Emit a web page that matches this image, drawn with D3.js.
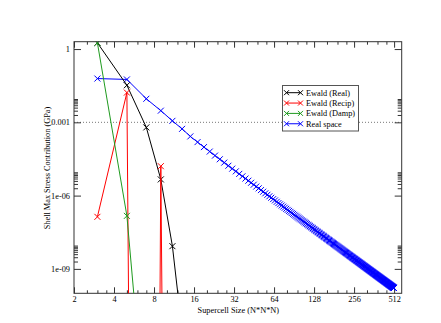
<!DOCTYPE html>
<html>
<head>
<meta charset="utf-8">
<script src="https://cdn.jsdelivr.net/npm/d3@7"></script>
<style>
  html, body { margin: 0; padding: 0; background: #fff; }
  svg { display: block; }
  text { font-family: "Liberation Serif", "DejaVu Serif", serif; }
</style>
</head>
<body>
<svg id="chart" width="441" height="323"></svg>
<script>
// Supercell sizes N (odd N) and the shell max stress contribution (GPa) of each term
const ewaldRealN = [3, 5, 7, 9, 11, 13];
const ewaldRealV = [1.8, 0.033, 6.2e-4, 4.6e-6, 8.5e-9, 3e-12];

const ewaldRecipN = [3, 5, 7, 9, 11];
const ewaldRecipV = [1.35e-7, 0.0165, 1e-100, 1.6e-5, 1e-60];

const ewaldDampN = [3, 5, 7];
const ewaldDampV = [1.8, 1.48e-7, 1.6e-16];

const realSpaceN = d3.range(3, 512, 2);
const realSpaceV = [
  0.062, 0.057, 9.2e-3, 3.0e-3, 1.15e-3, 5.4e-4, 2.65e-4, 1.55e-4, 9.67e-5, 6.35e-5,
  4.34e-5, 3.07e-5, 2.24e-5, 1.67e-5, 1.27e-5, 9.83e-6, 7.74e-6, 6.17e-6, 4.99e-6, 4.07e-6,
  3.35e-6, 2.79e-6, 2.34e-6, 1.98e-6, 1.68e-6, 1.44e-6, 1.24e-6, 1.08e-6, 9.36e-7, 8.19e-7,
  7.19e-7, 6.34e-7, 5.56e-7, 4.94e-7, 4.41e-7, 3.94e-7, 3.54e-7, 3.19e-7, 2.88e-7, 2.60e-7,
  2.36e-7, 2.15e-7, 1.95e-7, 1.785e-7, 1.633e-7, 1.497e-7, 1.375e-7, 1.265e-7, 1.166e-7, 1.076e-7,
  9.95e-8, 9.21e-8, 8.54e-8, 7.93e-8, 7.38e-8, 6.87e-8, 6.40e-8, 5.98e-8, 5.59e-8, 5.22e-8,
  4.89e-8, 4.59e-8, 4.31e-8, 4.04e-8, 3.80e-8, 3.58e-8, 3.37e-8, 3.18e-8, 3.00e-8, 2.83e-8,
  2.68e-8, 2.53e-8, 2.40e-8, 2.27e-8, 2.15e-8, 2.04e-8, 1.94e-8, 1.84e-8, 1.75e-8, 1.67e-8,
  1.59e-8, 1.51e-8, 1.44e-8, 1.37e-8, 1.31e-8, 1.25e-8, 1.19e-8, 1.14e-8, 1.09e-8, 1.04e-8,
  9.99e-9, 9.56e-9, 9.16e-9, 8.78e-9, 8.42e-9, 8.07e-9, 7.75e-9, 7.44e-9, 7.14e-9, 6.86e-9,
  6.60e-9, 6.34e-9, 6.10e-9, 5.87e-9, 5.65e-9, 5.44e-9, 5.24e-9, 5.05e-9, 4.87e-9, 4.69e-9,
  4.53e-9, 4.37e-9, 4.22e-9, 4.07e-9, 3.93e-9, 3.80e-9, 3.67e-9, 3.55e-9, 3.43e-9, 3.32e-9,
  3.21e-9, 3.11e-9, 3.01e-9, 2.91e-9, 2.82e-9, 2.73e-9, 2.65e-9, 2.57e-9, 2.49e-9, 2.41e-9,
  2.34e-9, 2.27e-9, 2.20e-9, 2.14e-9, 2.08e-9, 2.02e-9, 1.96e-9, 1.90e-9, 1.85e-9, 1.80e-9,
  1.75e-9, 1.70e-9, 1.65e-9, 1.61e-9, 1.56e-9, 1.52e-9, 1.48e-9, 1.44e-9, 1.40e-9, 1.36e-9,
  1.33e-9, 1.29e-9, 1.26e-9, 1.23e-9, 1.20e-9, 1.17e-9, 1.14e-9, 1.11e-9, 1.08e-9, 1.05e-9,
  1.03e-9, 1.00e-9, 9.80e-10, 9.56e-10, 9.33e-10, 9.11e-10, 8.89e-10, 8.68e-10, 8.48e-10, 8.28e-10,
  8.09e-10, 7.91e-10, 7.73e-10, 7.55e-10, 7.38e-10, 7.21e-10, 7.05e-10, 6.90e-10, 6.74e-10, 6.59e-10,
  6.45e-10, 6.31e-10, 6.17e-10, 6.04e-10, 5.91e-10, 5.79e-10, 5.66e-10, 5.54e-10, 5.43e-10, 5.32e-10,
  5.21e-10, 5.10e-10, 4.99e-10, 4.89e-10, 4.79e-10, 4.70e-10, 4.60e-10, 4.51e-10, 4.42e-10, 4.33e-10,
  4.25e-10, 4.16e-10, 4.08e-10, 4.00e-10, 3.93e-10, 3.85e-10, 3.78e-10, 3.70e-10, 3.63e-10, 3.57e-10,
  3.50e-10, 3.43e-10, 3.37e-10, 3.31e-10, 3.25e-10, 3.19e-10, 3.13e-10, 3.07e-10, 3.02e-10, 2.96e-10,
  2.91e-10, 2.86e-10, 2.81e-10, 2.76e-10, 2.71e-10, 2.66e-10, 2.61e-10, 2.57e-10, 2.52e-10, 2.48e-10,
  2.44e-10, 2.40e-10, 2.35e-10, 2.31e-10, 2.28e-10, 2.24e-10, 2.20e-10, 2.16e-10, 2.13e-10, 2.09e-10,
  2.06e-10, 2.02e-10, 1.99e-10, 1.96e-10, 1.93e-10, 1.90e-10, 1.87e-10, 1.84e-10, 1.81e-10, 1.78e-10,
  1.75e-10, 1.72e-10, 1.70e-10, 1.67e-10, 1.64e-10
];

// Axis ticks
const xMajorTicks = [2, 4, 8, 16, 32, 64, 128, 256, 512];
const xTickLabels = ["2", "4", "8", "16", "32", "64", "128", "256", "512"];
const yMajorTicks = [1, 1e-3, 1e-6, 1e-9];
const yTickLabels = ["1", "0.001", "1e-06", "1e-09"];
const refLineValue = 1e-3;

const seriesNames = ["Ewald (Real)", "Ewald (Recip)", "Ewald (Damp)", "Real space"];
const seriesColors = ["#000000", "#ff0000", "#1f9a1f", "#0000ff"];

const svg = d3.select("#chart");
const plotLeft = 74, plotRight = 401.7, plotTop = 41.7, plotBottom = 293.3;

const x = d3.scaleLog().base(2).domain([2, 584]).range([plotLeft, plotRight]);
const y = d3.scaleLog().base(10).domain([1e-10, 2]).range([plotBottom, plotTop]);

// minor ticks: quarter steps inside each octave, k x decade groups on y
const xMinor = [];
xMajorTicks.forEach(m => [1.25, 1.5, 1.75].forEach(f => { if (m * f <= 584) xMinor.push(m * f); }));
const yMinor = [];
[1e-9, 1e-6, 1e-3].forEach(m => d3.range(2, 10).forEach(k => yMinor.push(m * k)));

const fontSize = 8.3;
const axisColor = "#333";

svg.append("rect").attr("width", 441).attr("height", 323).attr("fill", "#fff");

svg.append("defs").append("clipPath").attr("id", "plotClip")
  .append("rect").attr("x", plotLeft).attr("y", plotTop)
  .attr("width", plotRight - plotLeft).attr("height", plotBottom - plotTop);

// dotted reference line at 0.001
svg.append("line")
  .attr("x1", plotLeft).attr("x2", plotRight)
  .attr("y1", y(refLineValue)).attr("y2", y(refLineValue))
  .attr("stroke", "#777").attr("stroke-width", 1)
  .attr("stroke-dasharray", "1,2");

function styleAxis(g) {
  g.select(".domain").remove();
  g.selectAll(".tick line").attr("stroke", axisColor);
  g.selectAll("text").attr("font-size", fontSize).attr("fill", "#000")
    .attr("font-family", "Liberation Serif, serif");
}

// bottom axis
svg.append("g").attr("transform", `translate(0,${plotBottom})`)
  .call(d3.axisBottom(x).tickValues(xMajorTicks).tickSize(-6).tickPadding(3)
    .tickFormat((d, i) => xTickLabels[i]))
  .call(styleAxis);
svg.append("g").attr("transform", `translate(0,${plotBottom})`)
  .call(d3.axisBottom(x).tickValues(xMinor).tickSize(-3).tickFormat(""))
  .call(styleAxis);
// top axis
svg.append("g").attr("transform", `translate(0,${plotTop})`)
  .call(d3.axisTop(x).tickValues(xMajorTicks).tickSize(-6).tickFormat(""))
  .call(styleAxis);
svg.append("g").attr("transform", `translate(0,${plotTop})`)
  .call(d3.axisTop(x).tickValues(xMinor).tickSize(-3).tickFormat(""))
  .call(styleAxis);
// left axis
svg.append("g").attr("transform", `translate(${plotLeft},0)`)
  .call(d3.axisLeft(y).tickValues(yMajorTicks).tickSize(-7).tickPadding(4)
    .tickFormat((d, i) => yTickLabels[i]))
  .call(styleAxis);
svg.append("g").attr("transform", `translate(${plotLeft},0)`)
  .call(d3.axisLeft(y).tickValues(yMinor).tickSize(-4).tickFormat(""))
  .call(styleAxis);
// right axis
svg.append("g").attr("transform", `translate(${plotRight},0)`)
  .call(d3.axisRight(y).tickValues(yMajorTicks).tickSize(-7).tickFormat(""))
  .call(styleAxis);
svg.append("g").attr("transform", `translate(${plotRight},0)`)
  .call(d3.axisRight(y).tickValues(yMinor).tickSize(-4).tickFormat(""))
  .call(styleAxis);

// frame
svg.append("rect").attr("x", plotLeft).attr("y", plotTop)
  .attr("width", plotRight - plotLeft).attr("height", plotBottom - plotTop)
  .attr("fill", "none").attr("stroke", axisColor).attr("stroke-width", 1);

const marker = "M-3,-3L3,3M-3,3L3,-3";
const line = d3.line().x(d => x(d[0])).y(d => y(d[1]));

const series = [
  { n: ewaldRealN, v: ewaldRealV },
  { n: ewaldRecipN, v: ewaldRecipV },
  { n: ewaldDampN, v: ewaldDampV },
  { n: realSpaceN, v: realSpaceV }
];

const plot = svg.append("g").attr("clip-path", "url(#plotClip)");
// real space underneath, the Ewald terms drawn over it
[3, 0, 1, 2].forEach(i => {
  const s = series[i];
  const pts = s.n.map((n, j) => [n, s.v[j]]);
  const g = plot.append("g");
  g.append("path").datum(pts).attr("d", line)
    .attr("fill", "none").attr("stroke", seriesColors[i]).attr("stroke-width", 1);
  g.selectAll("path.mk").data(pts).join("path").attr("class", "mk")
    .attr("d", marker)
    .attr("transform", d => `translate(${x(d[0])},${y(d[1])})`)
    .attr("fill", "none").attr("stroke", seriesColors[i]).attr("stroke-width", 1);
});

// axis titles
svg.append("text")
  .attr("x", (plotLeft + plotRight) / 2 + 0.5).attr("y", 313)
  .attr("text-anchor", "middle").attr("font-size", fontSize)
  .text("Supercell Size (N*N*N)");
svg.append("text")
  .attr("transform", `translate(50,168) rotate(-90)`)
  .attr("text-anchor", "middle").attr("font-size", fontSize)
  .text("Shell Max Stress Contribution (GPa)");

// legend
const lg = svg.append("g");
lg.append("rect").attr("x", 282.5).attr("y", 85.5).attr("width", 76).attr("height", 45.5)
  .attr("fill", "#fff").attr("stroke", "#555").attr("stroke-width", 1);
seriesNames.forEach((name, i) => {
  const cy = 92.7 + i * 10.35;
  lg.append("line").attr("x1", 286.5).attr("x2", 300.5).attr("y1", cy).attr("y2", cy)
    .attr("stroke", seriesColors[i]).attr("stroke-width", 1);
  [286.5, 300.5].forEach(px => lg.append("path").attr("d", "M-2.5,-2.5L2.5,2.5M-2.5,2.5L2.5,-2.5")
    .attr("transform", `translate(${px},${cy})`)
    .attr("fill", "none").attr("stroke", seriesColors[i]).attr("stroke-width", 1));
  lg.append("text").attr("x", 306).attr("y", cy + 3).attr("font-size", fontSize).text(name);
});
</script>
</body>
</html>
